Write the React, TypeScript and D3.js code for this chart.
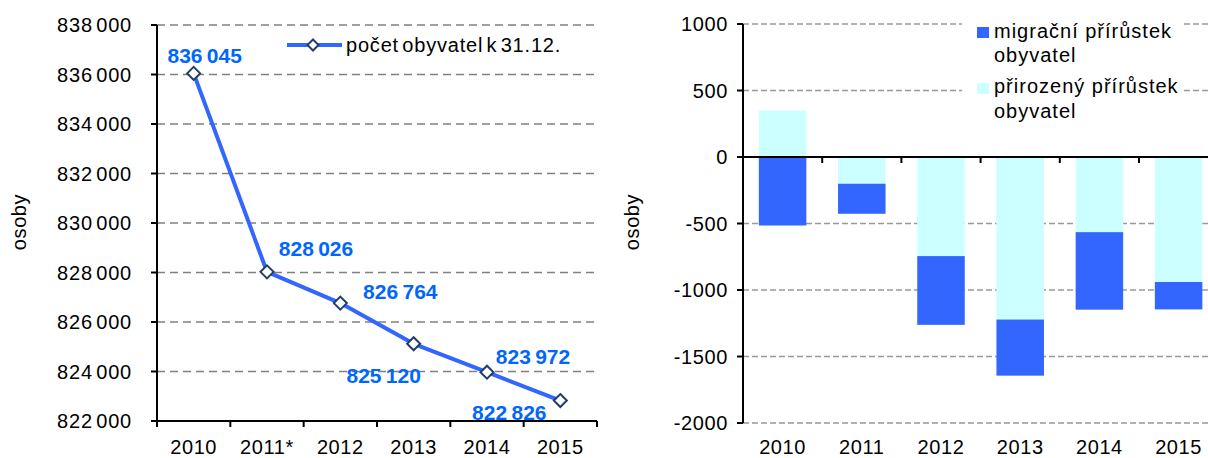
import * as d3 from 'd3'

// levý graf – počet obyvatel k 31.12.
const popYears = ['2010', '2011*', '2012', '2013', '2014', '2015']
const population = [836045, 828026, 826764, 825120, 823972, 822826]
const popTicks = [822000, 824000, 826000, 828000, 830000, 832000, 834000, 836000, 838000]
// posun popisků dat vůči bodu (dx, dy k účaří)
const labelDx = [11, 49, 60, -30, 46, -51]
const labelDy = [-10.5, -16, -4, 39, -8, 19.5]

// pravý graf – přírůstky
const barYears = ['2010', '2011', '2012', '2013', '2014', '2015']
const naturalGrowth = [349, -201, -745, -1222, -565, -940]
const migrationGrowth = [-515, -226, -517, -422, -583, -206]
const barTicks = [1000, 500, 0, -500, -1000, -1500, -2000]

const FONT = '"Liberation Sans", Arial, sans-serif'
const LINE_BLUE = '#3366FF'
const LABEL_BLUE = '#0066FF'
const LIGHT = '#CCFFFF'
const MARKER = '#1F3F6A'
const YEAR_BASE = 453.5

const fmt = d3.formatLocale({ decimal: ',', thousands: ' ', grouping: [3], currency: ['', ''] }).format(',')

function diamond(cx: number, cy: number, r: number) {
  return `M${cx},${cy - r}L${cx + r},${cy}L${cx},${cy + r}L${cx - r},${cy}Z`
}

function PopulationChart() {
  const left = 157, right = 597, top = 25, bottom = 421
  const x = d3.scaleBand<string>().domain(popYears).range([left, right])
  const y = d3.scaleLinear().domain([822000, 838000]).range([bottom, top])
  const cx = (i: number) => (x(popYears[i]) as number) + x.bandwidth() / 2
  const line = d3.line<number>().x((_, i) => cx(i)).y(d => y(d))

  return (
    <g fontFamily={FONT}>
      {popTicks.filter(t => t !== 822000).map(t => (
        <line key={t} x1={left} x2={right} y1={y(t)} y2={y(t)} stroke="#808080" strokeWidth={1.7} strokeDasharray="8,5" />
      ))}
      {popTicks.map(t => (
        <g key={'t' + t}>
          <line x1={left - 6} x2={left} y1={y(t)} y2={y(t)} stroke="#000" strokeWidth={2} />
          <text x={132} y={y(t)} dy="0.36em" textAnchor="end" fontSize={20} letterSpacing={0.8} wordSpacing={-3}>{fmt(t)}</text>
        </g>
      ))}
      {d3.range(popYears.length + 1).map(i => (
        <line key={'x' + i} x1={left + i * x.bandwidth()} x2={left + i * x.bandwidth()} y1={bottom} y2={bottom + 6} stroke="#000" strokeWidth={2} />
      ))}
      <line x1={left} x2={left} y1={top} y2={bottom} stroke="#000" strokeWidth={2} />
      <line x1={left} x2={right} y1={bottom} y2={bottom} stroke="#000" strokeWidth={2} />
      {popYears.map((yr, i) => (
        <text key={yr} x={cx(i)} y={YEAR_BASE} textAnchor="middle" fontSize={20} letterSpacing={0.6}>{yr}</text>
      ))}
      <text transform="translate(26,222) rotate(-90)" textAnchor="middle" fontSize={20} letterSpacing={0.6}>osoby</text>

      <path d={line(population) || ''} fill="none" stroke={LINE_BLUE} strokeWidth={4} strokeLinejoin="round" />
      {population.map((v, i) => (
        <path key={'m' + i} d={diamond(cx(i), y(v), 6.5)} fill="#fff" stroke={MARKER} strokeWidth={2} />
      ))}
      {population.map((v, i) => (
        <text key={'l' + i} x={cx(i) + labelDx[i]} y={y(v) + labelDy[i]} textAnchor="middle" fontSize={21} fontWeight="bold" fill={LABEL_BLUE} wordSpacing={-1.5}>{fmt(v)}</text>
      ))}

      <line x1={287} x2={342} y1={45} y2={45} stroke={LINE_BLUE} strokeWidth={4} />
      <path d={diamond(313, 45, 5.5)} fill="#fff" stroke={MARKER} strokeWidth={2} />
      <text x={346} y={52} fontSize={20} letterSpacing={0.8} wordSpacing={-3}>počet obyvatel k 31.12.</text>
    </g>
  )
}

function GrowthChart() {
  const left = 743, top = 24, bottom = 423
  const step = 79.2
  const right = left + step * barYears.length
  const x = d3.scaleBand<string>().domain(barYears).range([left, right])
  const y = d3.scaleLinear().domain([-2000, 1000]).range([bottom, top])
  const rows = barYears.map((yr, i) => ({ year: yr, natural: naturalGrowth[i], migration: migrationGrowth[i] }))
  const series = d3.stack<any>().keys(['natural', 'migration']).offset(d3.stackOffsetDiverging)(rows)
  const colors: Record<string, string> = { natural: LIGHT, migration: LINE_BLUE }
  const barW = x.bandwidth() * 0.6

  return (
    <g fontFamily={FONT}>
      {barTicks.filter(t => t !== 0).map(t => (
        <line key={t} x1={left} x2={1208} y1={y(t)} y2={y(t)} stroke="#999" strokeWidth={1.5} strokeDasharray="6,3" />
      ))}
      {series.map(s => s.map((d, i) => (
        <rect key={s.key + i} x={(x(barYears[i]) as number) + (x.bandwidth() - barW) / 2} width={barW}
          y={y(d[1])} height={y(d[0]) - y(d[1])} fill={colors[s.key]} />
      )))}
      {barTicks.map(t => (
        <g key={'t' + t}>
          <line x1={left - 6} x2={left} y1={y(t)} y2={y(t)} stroke="#000" strokeWidth={2} />
          <text x={728} y={y(t)} dy="0.36em" textAnchor="end" fontSize={20} letterSpacing={0.6}>{t}</text>
        </g>
      ))}
      {d3.range(1, barYears.length + 1).map(i => (
        <line key={'x' + i} x1={left + i * x.bandwidth()} x2={left + i * x.bandwidth()} y1={y(0)} y2={y(0) + 6} stroke="#000" strokeWidth={2} />
      ))}
      <line x1={left} x2={left} y1={top} y2={bottom} stroke="#000" strokeWidth={2} />
      <line x1={left} x2={right} y1={y(0)} y2={y(0)} stroke="#000" strokeWidth={2} />
      {barYears.map(yr => (
        <text key={yr} x={(x(yr) as number) + x.bandwidth() / 2} y={YEAR_BASE} textAnchor="middle" fontSize={20} letterSpacing={0.6}>{yr}</text>
      ))}
      <text transform="translate(639,222) rotate(-90)" textAnchor="middle" fontSize={20} letterSpacing={0.6}>osoby</text>

      <rect x={962} y={10} width={222} height={124} fill="#fff" />
      <rect x={977} y={27} width={12} height={11} fill={LINE_BLUE} />
      <text x={994} y={38} fontSize={20} letterSpacing={1}>migrační přírůstek</text>
      <text x={994} y={62} fontSize={20} letterSpacing={1}>obyvatel</text>
      <rect x={977} y={83} width={12} height={11} fill={LIGHT} />
      <text x={994} y={93} fontSize={20} letterSpacing={1}>přirozený přírůstek</text>
      <text x={994} y={118} fontSize={20} letterSpacing={1}>obyvatel</text>
    </g>
  )
}

export default function App() {
  return (
    <svg width={1208} height={458} style={{ position: 'absolute', left: 0, top: 0, background: '#fff' }}>
      <PopulationChart />
      <GrowthChart />
    </svg>
  )
}
